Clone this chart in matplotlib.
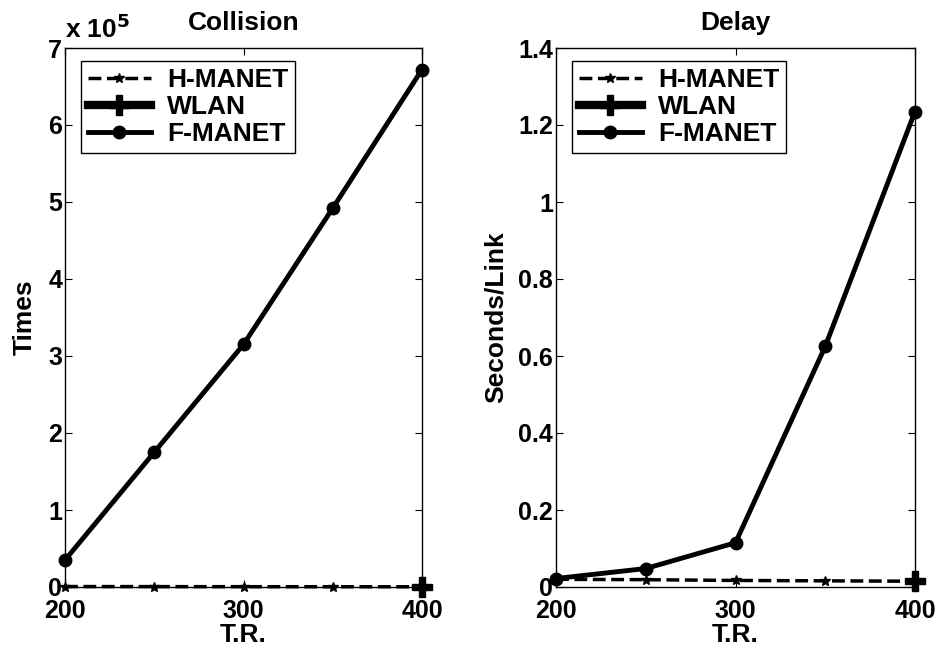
import matplotlib.pyplot as plt
import numpy as np
from matplotlib.ticker import FuncFormatter

plt.rcParams['font.family'] = ['Liberation Sans', 'DejaVu Sans']
plt.rcParams['font.weight'] = 'bold'

tr = [200, 250, 300, 350, 400]

# collision counts
col_h = [600, 500, 400, 350, 300]
col_wlan = [np.nan, np.nan, np.nan, np.nan, 0]
col_f = [0.35e5, 1.75e5, 3.15e5, 4.92e5, 6.72e5]

# delay, seconds per link
del_h = [0.020, 0.019, 0.017, 0.016, 0.015]
del_wlan = [np.nan, np.nan, np.nan, np.nan, 0.015]
del_f = [0.022, 0.048, 0.115, 0.625, 1.235]

FS = 19
TS = 18

fig = plt.figure(figsize=(9.42, 6.47), dpi=100)
ax1 = fig.add_axes([65/942, 1-587/647, (422-65)/942, 539/647])
ax2 = fig.add_axes([556/942, 1-587/647, (915-556)/942, 539/647])


def draw(ax, h, w, f):
    ax.plot(tr, h, 'k--', lw=2.5, marker='*', ms=7, label='H-MANET', clip_on=False)
    ax.plot(tr, w, 'k-', lw=6, marker='P', ms=15, label='WLAN', clip_on=False)
    ax.plot(tr, f, 'k-', lw=3.5, marker='o', ms=9, label='F-MANET', clip_on=False)
    ax.set_xlim(200, 400)
    ax.set_xticks([200, 300, 400])
    ax.tick_params(direction='in', top=True, right=True, length=5, width=0.8,
                   labelsize=TS, pad=2)
    ax.tick_params(axis='x', pad=8.5)
    for s in ax.spines.values():
        s.set_linewidth(1.0)
    ax.set_xlabel('T.R.', fontsize=FS, fontweight='bold', labelpad=0)
    leg = ax.legend(loc='upper left', fontsize=FS, fancybox=False, framealpha=1,
                    edgecolor='black', handlelength=2.4, borderpad=0.25,
                    labelspacing=0.12, handletextpad=0.6, borderaxespad=0,
                    bbox_to_anchor=(0.045, 0.975))
    leg.get_frame().set_linewidth(1.0)


draw(ax1, col_h, col_wlan, col_f)
ax1.set_ylim(0, 7e5)
ax1.set_yticks(np.arange(0, 8) * 1e5)
ax1.yaxis.set_major_formatter(FuncFormatter(lambda v, p: '%d' % round(v / 1e5)))
ax1.set_ylabel('Times', fontsize=FS, fontweight='bold', labelpad=8)
ax1.set_title('Collision', fontsize=FS, fontweight='bold', pad=13)
ax1.text(0.0, 1.01, r'x 10$^{\mathbf{5}}$', transform=ax1.transAxes,
         fontsize=FS, fontweight='bold', ha='left', va='bottom')

draw(ax2, del_h, del_wlan, del_f)
ax2.set_ylim(0, 1.4)
ax2.set_yticks([0, 0.2, 0.4, 0.6, 0.8, 1.0, 1.2, 1.4])
ax2.yaxis.set_major_formatter(FuncFormatter(lambda v, p: ('%g' % round(v, 1))))
ax2.set_ylabel('Seconds/Link', fontsize=FS, fontweight='bold', labelpad=8)
ax2.set_title('Delay', fontsize=FS, fontweight='bold', pad=13)

fig.savefig('out.png', dpi=100)
